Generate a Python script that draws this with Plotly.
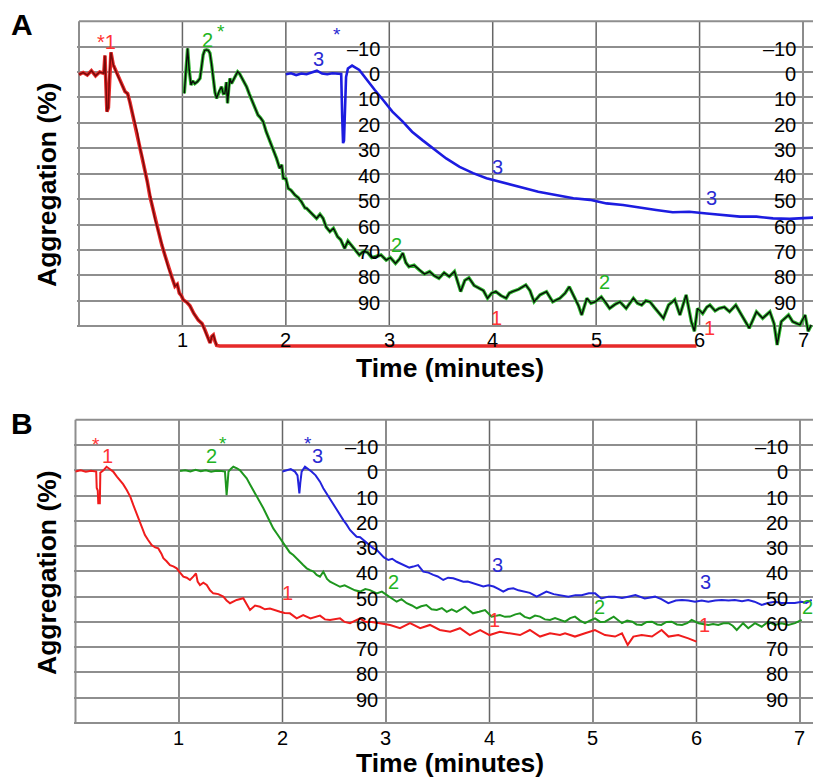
import plotly.graph_objects as go

W, H = 813, 777
FONT = "Liberation Sans, Arial, Helvetica, sans-serif"

# ---------------- Panel A data (time in minutes, aggregation in %) ----------------
a_red_t = [0.0, 0.04, 0.08, 0.12, 0.16, 0.2, 0.24, 0.251, 0.258, 0.27,
           0.284, 0.295, 0.309, 0.33, 0.364, 0.4, 0.445, 0.47, 0.493, 0.52,
           0.541, 0.565, 0.59, 0.615, 0.638, 0.66, 0.686, 0.71, 0.735, 0.77,
           0.8, 0.83, 0.864, 0.9, 0.928, 0.95, 0.97, 0.99, 1.009, 1.04,
           1.073, 1.11, 1.153, 1.19, 1.218, 1.24, 1.267, 1.285, 1.299, 1.315,
           1.331, 1.36, 5.97]
a_red_y = [1.0, 0.2, 1.2, -0.5, 1.5, 0.0, 0.5, -6.5, 2.0, 15.6,
           14.0, 0.0, -7.7, -3.0, 0.5, 3.5, 7.7, 8.5, 12.0, 17.0,
           19.5, 24.0, 30.0, 34.0, 39.0, 43.0, 49.0, 53.0, 58.0, 63.0,
           68.0, 72.0, 77.0, 81.0, 84.3, 83.5, 87.0, 88.0, 89.7, 90.5,
           92.0, 95.0, 97.6, 99.0, 101.5, 104.0, 106.6, 104.0, 103.5, 106.0,
           107.6, 107.8, 107.8]

a_grn_t = [1.018, 1.035, 1.05, 1.065, 1.083, 1.1, 1.12, 1.145, 1.17, 1.185,
           1.2, 1.215, 1.233, 1.25, 1.266, 1.282, 1.298, 1.315, 1.33, 1.355,
           1.378, 1.395, 1.41, 1.425, 1.436, 1.448, 1.459, 1.475, 1.49, 1.51,
           1.534, 1.55, 1.57, 1.595, 1.62, 1.645, 1.67, 1.7, 1.73, 1.755,
           1.78, 1.81, 1.835, 1.86, 1.885, 1.91, 1.94, 1.96, 1.975, 2.0,
           2.023, 2.05, 2.088, 2.12, 2.15, 2.185, 2.2, 2.25, 2.297, 2.33,
           2.36, 2.39, 2.426, 2.46, 2.5, 2.53, 2.568, 2.6, 2.63, 2.67,
           2.71, 2.75, 2.79, 2.83, 2.87, 2.92, 2.97, 3.01, 3.06, 3.1,
           3.13, 3.16, 3.19, 3.24, 3.29, 3.34, 3.39, 3.43, 3.48, 3.53,
           3.58, 3.63, 3.69, 3.73, 3.77, 3.82, 3.87, 3.91, 3.95, 3.99,
           4.03, 4.08, 4.13, 4.16, 4.19, 4.25, 4.32, 4.36, 4.4, 4.457,
           4.52, 4.58, 4.65, 4.7, 4.74, 4.79, 4.83, 4.86, 4.91, 4.95,
           4.99, 5.05, 5.09, 5.13, 5.18, 5.23, 5.29, 5.36, 5.4, 5.44,
           5.48, 5.52, 5.56, 5.6, 5.65, 5.7, 5.76, 5.81, 5.87, 5.92,
           5.95, 5.98, 6.03, 6.07, 6.1, 6.15, 6.19, 6.24, 6.29, 6.35,
           6.42, 6.48, 6.55, 6.61, 6.68, 6.72, 6.75, 6.79, 6.86, 6.9,
           6.97, 7.02, 7.05, 7.08]
a_grn_y = [8.4, -2, -9.3, -1, 5.1, 3.5, 4.6, 3.8, 2.5, -2,
           -6.7, -8.5, -8.7, -8.5, -7.4, -3, 3.8, 8, 10.4, 7.5,
           5.8, 8.5, 8.4, 4, 12.3, 6, 2.5, 4.5, 3.2, 1.5,
           -0.1, 0.5, 1.9, 3.5, 5.8, 8.5, 11, 13.5, 16.9, 18,
           19.5, 23.5, 26, 28.7, 31, 34, 37.9, 36.5, 41.8, 42,
           45.8, 46.5, 48.4, 49.5, 51, 53.5, 53.6, 55.5, 57.6, 56,
           57.6, 61, 62.8, 61.5, 64.8, 66, 69.4, 66.5, 68, 70,
           72, 70.5, 71, 73, 72.7, 72, 74, 73, 75.3, 73.5,
           71.2, 75, 76.6, 76, 77.9, 79.5, 78.5, 80, 81.2, 79,
           80.5, 78.5, 86.4, 82, 81, 84, 85.1, 86, 89, 87,
           86.4, 88, 89, 87, 86.4, 85.5, 83.8, 86, 90.4, 87.7,
           86.4, 90.4, 89, 87, 84.5, 89, 92, 95.6, 89, 91,
           90.4, 88.5, 90.5, 93, 91.5, 90.4, 93, 89, 91, 91.7,
           90, 90.4, 92.5, 94.3, 96.9, 91.7, 89.6, 95.6, 87.7, 98.2,
           102, 93, 95, 92.5, 91.7, 94, 93, 92.5, 94.3, 91.7,
           96.9, 100.8, 94.3, 96.9, 94.3, 99, 107.4, 98.2, 95.6, 98.2,
           99.5, 95.6, 102, 99.5]

a_blu_t = [2.0, 2.05, 2.1, 2.15, 2.2, 2.25, 2.3, 2.35, 2.4, 2.45,
           2.5, 2.535, 2.545, 2.553, 2.562, 2.572, 2.582, 2.6, 2.64, 2.71,
           2.77, 2.86, 2.94, 3.03, 3.13, 3.22, 3.32, 3.42, 3.55, 3.68,
           3.81, 3.94, 4.07, 4.2, 4.32, 4.44, 4.62, 4.78, 4.94, 5.1,
           5.26, 5.42, 5.58, 5.74, 5.9, 6.07, 6.23, 6.39, 6.55, 6.71,
           6.87, 7.03, 7.1]
a_blu_y = [0.9, 0.5, 1.2, 0.6, 0.9, 0.3, -0.5, 0.6, 0.9, 0.5,
           0.8, 0.8, 18, 28, 27, 12, 2, -1.4, -2.5, -0.8,
           2.5, 7.1, 11, 15.6, 19.5, 23.5, 26.8, 30, 34, 37.3,
           39.8, 41.8, 43.1, 44.5, 45.8, 47.1, 48.4, 49.7, 50.3, 51.7,
           52.3, 53.4, 54.3, 55.2, 55, 55.7, 56.3, 56.9, 56.9, 57.6,
           57.8, 57.6, 57.3]

# ---------------- Panel B data ----------------
b_red_t = [0.0, 0.05, 0.1, 0.15, 0.2, 0.205, 0.215, 0.22, 0.235, 0.24,
           0.27, 0.3, 0.33, 0.364, 0.4, 0.43, 0.46, 0.495, 0.53, 0.558,
           0.59, 0.623, 0.65, 0.671, 0.7, 0.736, 0.77, 0.8, 0.83, 0.849,
           0.88, 0.913, 0.945, 0.978, 1.01, 1.042, 1.075, 1.106, 1.14, 1.164,
           1.18, 1.203, 1.235, 1.268, 1.3, 1.331, 1.38, 1.428, 1.46, 1.493,
           1.557, 1.621, 1.686, 1.735, 1.783, 1.83, 1.879, 1.93, 1.976, 2.02,
           2.072, 2.137, 2.2, 2.27, 2.362, 2.41, 2.459, 2.556, 2.6, 2.652,
           2.749, 2.8, 2.845, 2.942, 3.04, 3.135, 3.232, 3.33, 3.425, 3.52,
           3.62, 3.715, 3.81, 3.91, 4.0, 4.1, 4.198, 4.295, 4.39, 4.488,
           4.585, 4.681, 4.73, 4.826, 4.923, 5.019, 5.116, 5.213, 5.28, 5.335,
           5.39, 5.47, 5.57, 5.663, 5.73, 5.824, 5.921, 6.0]
b_red_y = [0.5, 0.0, 0.6, 0.2, 0.5, 7, 8, 13, 13, 1,
           0, -1.4, -0.5, 0.5, 2.5, 3.8, 5.5, 7.8, 10.5, 13.7,
           17, 20.3, 23, 25.6, 27.5, 29.6, 30.5, 30.9, 33, 34.8,
           36, 37.5, 38, 38.8, 40.5, 42.1, 42.5, 43.4, 42, 40.8,
           44, 45.4, 44.5, 45.4, 47.5, 48.7, 49, 50, 51.5, 52.6,
           51.3, 50.6, 55.3, 53.5, 54, 55, 54.7, 55.5, 56, 56.5,
           56.6, 58.6, 57.3, 58.6, 57.5, 59, 59.2, 58.6, 60, 60.5,
           58.6, 60, 59.9, 60.5, 61.2, 62.5, 60.5, 62.5, 61.2, 63.2,
           63.9, 62.5, 65.2, 63.2, 65.2, 63.9, 64.5, 65.2, 63.2, 65.8,
           64.5, 65.2, 64.5, 65.8, 64.5, 63.2, 65.2, 65.8, 64.5, 69.1,
           65.8, 65.2, 65.8, 63.2, 65.8, 65.2, 66.5, 67.8]

b_grn_t = [1.01, 1.06, 1.11, 1.16, 1.21, 1.26, 1.31, 1.36, 1.41, 1.444,
           1.452, 1.46, 1.468, 1.478, 1.5, 1.525, 1.56, 1.59, 1.62, 1.654,
           1.685, 1.718, 1.75, 1.783, 1.815, 1.847, 1.88, 1.911, 1.945, 1.976,
           2.01, 2.04, 2.07, 2.104, 2.135, 2.169, 2.2, 2.234, 2.266, 2.3,
           2.33, 2.362, 2.394, 2.43, 2.459, 2.51, 2.556, 2.6, 2.652, 2.7,
           2.749, 2.8, 2.845, 2.91, 2.96, 3.007, 3.05, 3.103, 3.15, 3.2,
           3.25, 3.297, 3.34, 3.39, 3.44, 3.49, 3.54, 3.587, 3.635, 3.683,
           3.763, 3.84, 3.9, 3.957, 4.02, 4.1, 4.15, 4.198, 4.25, 4.295,
           4.34, 4.39, 4.44, 4.488, 4.535, 4.585, 4.633, 4.68, 4.73, 4.78,
           4.826, 4.875, 4.923, 4.97, 5.019, 5.07, 5.116, 5.2, 5.28, 5.33,
           5.38, 5.42, 5.47, 5.52, 5.57, 5.62, 5.66, 5.71, 5.76, 5.81,
           5.86, 5.91, 5.953, 6.02, 6.07, 6.114, 6.16, 6.21, 6.26, 6.31,
           6.35, 6.389, 6.45, 6.5, 6.565, 6.63, 6.694, 6.758, 6.82, 6.887,
           6.952, 7.016]
b_grn_y = [0.3, 0.0, 0.5, -0.2, 0.4, 0.0, 0.6, 0.2, 0.3, 0.5,
           5, 9.8, 6, 0.5, -0.5, -1.4, -0.8, 0, 1.5, 3.2,
           5.5, 7.8, 10, 12.4, 15, 17.7, 20.5, 23, 25, 26.9,
           29, 30.9, 32.5, 33.5, 35, 36.2, 37.5, 38.8, 39.5, 40.1,
           41.4, 42.1, 40.1, 43, 44.1, 45, 46.1, 45.5, 46.7, 47.5,
           48, 47, 47.4, 48.7, 48, 49.4, 50.5, 52, 51, 52.6,
           53.5, 54.6, 53.8, 53.3, 55, 55.3, 54.5, 56, 55, 56,
           54, 56.6, 56, 55.3, 57.9, 57.3, 58, 57.9, 57, 56.6,
           58, 58.6, 57.5, 57.9, 59, 59.2, 58.5, 59.2, 59.9, 58.5,
           57.9, 59.5, 60.5, 59.5, 58.6, 60, 59.9, 57.9, 60.5, 59.5,
           59.9, 61, 61.2, 60, 59.9, 61, 61.2, 60, 59.9, 61,
           61.2, 60.5, 59.2, 60.5, 61, 61.2, 60.8, 61.2, 60.5, 60.5,
           61.5, 63.2, 60.5, 62.5, 60.5, 61.9, 59.9, 61.2, 60.5, 61.2,
           60.5, 59.2]

b_blu_t = [2.0, 2.04, 2.08, 2.12, 2.145, 2.155, 2.163, 2.172, 2.185, 2.217,
           2.25, 2.28, 2.32, 2.362, 2.394, 2.43, 2.459, 2.49, 2.524, 2.555,
           2.588, 2.62, 2.652, 2.685, 2.716, 2.75, 2.78, 2.83, 2.877, 2.91,
           2.94, 2.98, 3.023, 3.06, 3.103, 3.145, 3.185, 3.225, 3.264, 3.31,
           3.36, 3.41, 3.457, 3.5, 3.553, 3.6, 3.65, 3.7, 3.747, 3.79,
           3.84, 3.89, 3.94, 3.99, 4.04, 4.09, 4.133, 4.18, 4.23, 4.28,
           4.33, 4.39, 4.456, 4.5, 4.55, 4.62, 4.681, 4.762, 4.83, 4.89,
           4.96, 5.02, 5.08, 5.15, 5.21, 5.28, 5.34, 5.41, 5.5, 5.6,
           5.66, 5.728, 5.8, 5.86, 5.92, 5.986, 6.05, 6.114, 6.18, 6.244,
           6.31, 6.37, 6.44, 6.5, 6.56, 6.63, 6.69, 6.758, 6.82, 6.887,
           6.95, 7.016, 7.06, 7.113]
b_blu_y = [0.5, 0.0, -0.5, 0.5, 2, 6, 9.1, 5, 0.5, -1.4,
           -0.5, 0.5, 2, 4.5, 7.1, 9.5, 11.1, 13.5, 15.7, 17.5,
           19.7, 21.5, 23.6, 25, 26.3, 26.5, 27.6, 29.5, 30.9, 31.5,
           32.8, 34.5, 35.5, 35, 36.2, 37, 37.5, 38.5, 38.1, 37.5,
           40.1, 40.5, 41.4, 42, 43.4, 42.5, 42.7, 43.5, 44.1, 44,
           44.7, 45.5, 46, 45.5, 46, 47, 48, 47, 46.7, 47.5,
           48, 48.5, 50, 49, 48, 49, 49.4, 50, 49.4, 49.4,
           48.7, 48.7, 50.7, 50, 50, 50.5, 50, 49.4, 50.7, 50,
           51, 52.6, 51.5, 51.3, 51.5, 52, 51.5, 52, 51.5, 51.3,
           51.5, 51.3, 51.8, 51.3, 52, 53.3, 52.5, 52, 52.5, 52.6,
           52.5, 52, 52.5, 51.3]

# ---------------- ticks and labels ----------------
x_ticks = [1, 2, 3, 4, 5, 6, 7]
x_tick_labels = ["1", "2", "3", "4", "5", "6", "7"]
x_grid = [0, 1, 2, 3, 4, 5, 6, 7]
y_ticks = [-10, 0, 10, 20, 30, 40, 50, 60, 70, 80, 90]
y_tick_labels = ["\u201310", "0", "10", "20", "30", "40", "50", "60", "70", "80", "90"]
y_grid = [-10, 0, 10, 20, 30, 40, 50, 60, 70, 80, 90, 100]
y_label_cols = [3, 7]

a_lab_text = ["*1", "2", "*", "*", "3", "2", "3", "3", "2", "1", "1"]
a_lab_t = [0.27, 1.238, 1.37, 2.494, 2.311, 3.065, 4.051, 6.12, 5.076, 4.041, 6.1]
a_lab_y = [-11.8, -12.6, -17.8, -16.9, -5.1, 68.1, 37.4, 49.6, 82.6, 96.8, 100.7]
a_lab_c = ["r", "g", "g", "b", "b", "g", "b", "b", "g", "r", "r"]

b_lab_text = ["*", "1", "2", "*", "*", "3", "1", "2", "3", "3", "2", "1", "1", "2"]
b_lab_t = [0.198, 0.307, 1.316, 1.422, 2.249, 2.336, 2.046, 3.07, 4.079, 6.089, 5.058, 4.053, 6.082, 7.077]
b_lab_y = [-12, -5.8, -5.8, -12.7, -12.7, -5.8, 48.7, 44.1, 37.5, 44.1, 54, 59.2, 61.2, 54]
b_lab_c = ["r", "r", "g", "g", "b", "b", "r", "g", "b", "b", "g", "r", "r", "g"]

LAB_COL = {"r": "#ff3434", "g": "#22b422", "b": "#2a2ad2"}

# ---------------- figure ----------------
fig = go.Figure()


def line(xa, ya, t, y, color, width):
    fig.add_trace(go.Scatter(x=t, y=y, mode="lines", xaxis=xa, yaxis=ya,
                             line=dict(color=color, width=width),
                             hoverinfo="skip", showlegend=False))


# Panel A
line("x", "y", a_red_t, a_red_y, "#e62a2a", 3.6)
line("x", "y", a_red_t[:51], a_red_y[:51], "#7a0a0a", 1.5)
line("x", "y", a_grn_t, a_grn_y, "#30b830", 3.4)
line("x", "y", a_grn_t, a_grn_y, "#0a0a0a", 1.4)
line("x", "y", a_blu_t, a_blu_y, "#1c1ce0", 2.6)
# Panel B
line("x2", "y2", b_red_t, b_red_y, "#f01c1c", 2.0)
line("x2", "y2", b_grn_t, b_grn_y, "#1e961e", 2.0)
line("x2", "y2", b_blu_t, b_blu_y, "#2323dc", 2.0)

# panel geometry (pixel scale of each panel)
panels = [
    dict(xa="x", ya="y", x0=79.0, xs=103.43, y0=72.0, ys=2.5417, key=""),
    dict(xa="x2", ya="y2", x0=75.5, xs=103.5, y0=470.3, ys=2.527, key="2"),
]
XMIN, YTOP, YBOT = -0.015, -21.0, 112.0

shapes = []
annotations = []
for p in panels:
    xmax = (W - p["x0"]) / p["xs"]
    left_px = p["x0"] + XMIN * p["xs"]
    top_px = p["y0"] + YTOP * p["ys"]
    bot_px = p["y0"] + YBOT * p["ys"]
    fig.layout["xaxis" + p["key"]] = dict(
        domain=[left_px / W, 1], range=[XMIN, xmax], visible=False,
        anchor=p["ya"], fixedrange=True)
    fig.layout["yaxis" + p["key"]] = dict(
        domain=[1 - bot_px / H, 1 - top_px / H], range=[YBOT, YTOP],
        tickvals=y_grid, showticklabels=False, ticks="", showgrid=True,
        gridcolor="#8e8e8e", gridwidth=2, zeroline=False, showline=False,
        anchor=p["xa"], fixedrange=True)
    # vertical grid lines (stop at the bottom frame)
    for k in x_grid:
        shapes.append(dict(type="line", xref=p["xa"], yref=p["ya"], x0=k, x1=k,
                           y0=-20, y1=100, layer="below",
                           line=dict(color="#8e8e8e" if k == 0 else "#666666",
                                     width=2 if k == 0 else 1.5)))
    # top frame
    shapes.append(dict(type="line", xref=p["xa"], yref=p["ya"], x0=0, x1=xmax,
                       y0=-20, y1=-20, layer="below",
                       line=dict(color="#8e8e8e", width=2)))

TICK = 20
# tick labels
for p, xy, shifts in [(panels[0], 105.4, (-7, -5)), (panels[1], 106.1, (-6, -10))]:
    for k, lab in zip(x_ticks, x_tick_labels):
        annotations.append(dict(x=k, y=xy, xref=p["xa"], yref=p["ya"], text=lab,
                                showarrow=False, xanchor="center", yanchor="middle",
                                font=dict(size=TICK, color="black", family=FONT)))
    for col, sh in zip(y_label_cols, shifts):
        for v, lab in zip(y_ticks, y_tick_labels):
            annotations.append(dict(x=col, y=v, xref=p["xa"], yref=p["ya"], text=lab,
                                    showarrow=False, xanchor="right", yanchor="middle",
                                    xshift=sh, yshift=-2,
                                    font=dict(size=TICK, color="black", family=FONT)))

# curve labels
for p, texts, ts, ys, cs in [(panels[0], a_lab_text, a_lab_t, a_lab_y, a_lab_c),
                             (panels[1], b_lab_text, b_lab_t, b_lab_y, b_lab_c)]:
    for txt, t, y, c in zip(texts, ts, ys, cs):
        star = txt == "*"
        annotations.append(dict(x=t, y=y, xref=p["xa"], yref=p["ya"], text=txt,
                                showarrow=False, xanchor="center", yanchor="middle",
                                yshift=-5 if star else 0,
                                font=dict(size=19 if star else 20, color=LAB_COL[c],
                                          family=FONT)))


def paper(px, py, text, size, angle=0):
    return dict(x=px / W, y=1 - py / H, xref="paper", yref="paper", text=text,
                showarrow=False, xanchor="center", yanchor="middle", textangle=angle,
                font=dict(size=size, color="black", family=FONT))


annotations += [
    paper(450, 368, "<b>Time (minutes)</b>", 26.5),
    paper(450, 763, "<b>Time (minutes)</b>", 26.5),
    paper(47, 185, "<b>Aggregation (%)</b>", 26.5, -90),
    paper(47, 573, "<b>Aggregation (%)</b>", 26.5, -90),
    paper(22, 24, "<b>A</b>", 30),
    paper(22, 423, "<b>B</b>", 30),
]

fig.update_layout(width=W, height=H, margin=dict(l=0, r=0, t=0, b=0),
                  paper_bgcolor="white", plot_bgcolor="white",
                  shapes=shapes, annotations=annotations, showlegend=False)

fig.write_html("out.html", config={"displayModeBar": False},
               post_script="document.body.style.margin='0';document.body.style.padding='0';")
